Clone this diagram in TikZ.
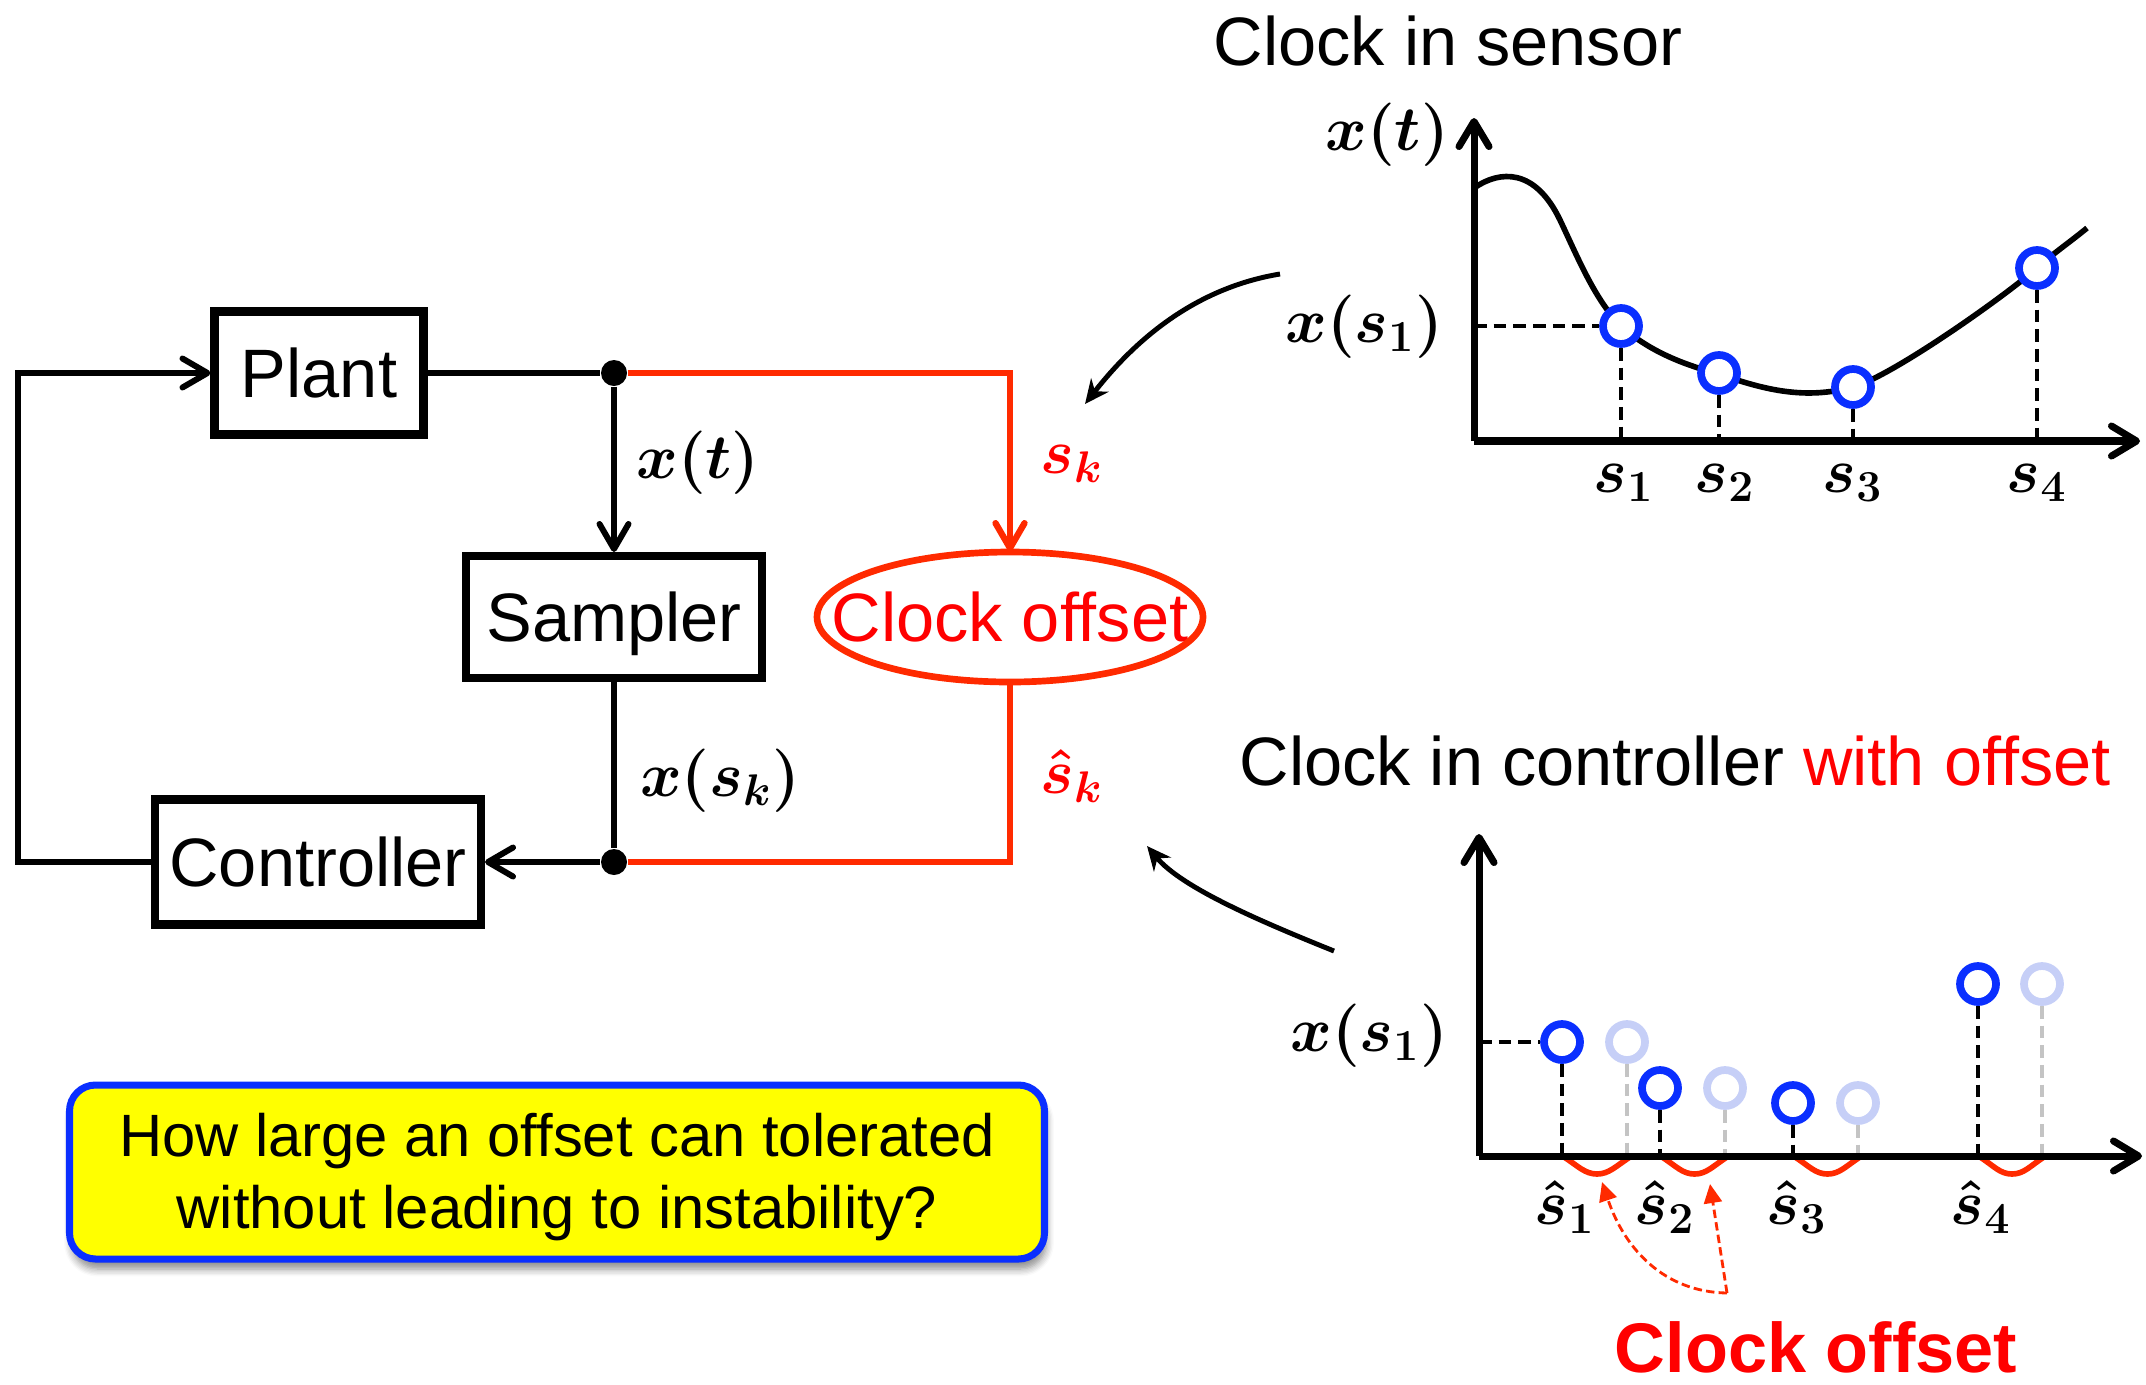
\RequirePackage{fix-cm}
\documentclass[tikz,border=0pt]{standalone}
\usepackage[no-math]{fontspec}
\setmainfont{Liberation Sans}
\usetikzlibrary{arrows.meta,shapes.geometric,shadows.blur}
\definecolor{lred}{HTML}{FF2A00}
\definecolor{tred}{HTML}{FF0000}
\definecolor{cblue}{HTML}{0A2FFF}
\definecolor{lightc}{HTML}{C6CFF7}
\definecolor{lgray}{HTML}{C4C4C4}
\definecolor{byel}{HTML}{FFFF00}
\begin{document}
\begin{tikzpicture}[x=0.1mm,y=-0.1mm,
  blk/.style={draw,line width=2.3pt,inner sep=0,text depth=0pt,font=\fontsize{19.5}{23}\selectfont},
  conn/.style={line width=1.7pt},
  rline/.style={color=lred,line width=1.8pt},
  tipo/.style={-{Straight Barb[length=2.5mm,width=2.9mm,round]}},
  tipf/.style={-{Stealth[length=2.4mm,width=2.2mm]}},
  dot/.style={circle,fill=black,inner sep=0,minimum size=2.6mm},
  mlbl/.style={font=\fontsize{18}{22}\selectfont\boldmath,inner sep=0,anchor=base},
  ttl/.style={font=\fontsize{19.5}{23}\selectfont,inner sep=0},
  axis/.style={line width=2pt,-{Straight Barb[length=2.5mm,width=3mm,round]}},
  dsh/.style={line width=1.2pt,dash pattern=on 3.6pt off 2pt},
  bc/.style={circle,draw=cblue,line width=2.2pt,fill=white,minimum size=3.6mm,inner sep=0},
  lc/.style={circle,draw=lightc,line width=2.2pt,fill=white,minimum size=3.6mm,inner sep=0},
  brk/.style={color=lred,line width=1.6pt},
  rdash/.style={color=lred,line width=0.8pt,dash pattern=on 2.4pt off 1.2pt,-{Triangle[length=1.9mm,width=1.8mm]}},
  qbox/.style={draw=cblue,line width=2pt,fill=byel,rounded corners=2.6mm,minimum width=97.5mm,minimum height=17.4mm,inner sep=0,
    blur shadow={shadow xshift=0.2mm,shadow yshift=-1mm,shadow opacity=45,shadow blur steps=6}}
]
\useasboundingbox (0,0) rectangle (2146,1384);

% ---------- block diagram ----------
\node[blk,minimum width=20.9mm,minimum height=12.3mm] (plant) at (319,373) {Plant};
\node[blk,minimum width=29.6mm,minimum height=12.2mm] (samp) at (614,617) {Sampler};
\node[blk,minimum width=32.6mm,minimum height=12.5mm] (cont) at (318,862) {Controller};
\node[inner sep=0,minimum width=38.6mm,minimum height=13mm,text=tred,
      font=\fontsize{19.5}{23}\selectfont] (clk) at (1010,617) {Clock offset};
\draw[lred,line width=1.9pt] (clk.center) ellipse [x radius=19.3mm,y radius=6.5mm];
\node[dot] (d1) at (614,373) {};
\node[dot] (d2) at (614,862) {};
\coordinate (fbl) at (18,862);

\draw[conn,tipo] (cont.west) -- (fbl) |- (plant.west);
\draw[conn] (plant.east) -- (d1);
\draw[conn,tipo] (d1) -- (samp.north);
\draw[rline,tipo] (d1) -| (clk.north);
\draw[conn] (samp.south) -- (d2);
\draw[conn,tipo] (d2) -- (cont.east);
\draw[rline] (clk.south) |- (d2);

\node[mlbl] (lxt) at (698,478) {$x(t)$};
\node[mlbl] (lxs) at (720,796) {$x(s_k)$};
\node[mlbl,text=tred] (lsk) at (1072,473) {$s_k$};
\node[mlbl,text=tred] (lshk) at (1072,793) {$\hat{s}_k$};

% curved pointer arrows
\coordinate (pa1) at (1280,274);
\coordinate (pa1e) at (1085,404);
\draw[line width=1.4pt,tipf] (pa1) .. controls (1195,288) and (1135,340) .. (pa1e);
\coordinate (pa2) at (1334,951);
\coordinate (pa2e) at (1147,846);
\draw[line width=1.4pt,tipf] (pa2) .. controls (1262,922) and (1182,888) .. (pa2e);

% ---------- top plot ----------
\node[ttl] (t1) at (1448,41) {Clock in sensor};
\coordinate (O1) at (1474,441);
\coordinate (X1) at (2140,441);
\coordinate (Y1) at (1474,118);
\draw[line width=1.6pt] (1474,188) .. controls (1500,170) and (1535,168) .. (1560,220)
   .. controls (1578,258) and (1595,300) .. (1621,326)
   .. controls (1650,352) and (1685,365) .. (1719,374)
   .. controls (1765,390) and (1805,400) .. (1853,387)
   .. controls (1890,377) and (2000,300) .. (2037,268)
   .. controls (2055,252) and (2070,242) .. (2087,228);
\draw[axis] (O1) -- (X1);
\draw[axis] (O1) -- (Y1);
\node[bc] (c1) at (1621,326) {};
\node[bc] (c2) at (1719,373) {};
\node[bc] (c3) at (1853,387) {};
\node[bc] (c4) at (2037,268) {};
\foreach \c in {c1,c2,c3,c4} \draw[dsh] (\c.south) -- (\c.south |- O1);
\draw[dsh] (O1 |- c1) -- (c1.west);
\node[mlbl] (lxt2) at (1387,150) {$x(t)$};
\node[mlbl] (lxs1) at (1364,342) {$x(s_1)$};
\node[mlbl] (s1) at (1624,492) {$s_1$};
\node[mlbl] (s2) at (1725,492) {$s_2$};
\node[mlbl] (s3) at (1853,492) {$s_3$};
\node[mlbl] (s4) at (2037,492) {$s_4$};

% ---------- bottom plot ----------
\node[ttl] (t2) at (1675,761) {Clock in controller \textcolor{tred}{with offset}};
\coordinate (O2) at (1479,1156);
\coordinate (X2) at (2142,1156);
\coordinate (Y2) at (1479,834);
\node[bc] (b1) at (1562,1042) {};
\node[bc] (b2) at (1660,1088) {};
\node[bc] (b3) at (1793,1103) {};
\node[bc] (b4) at (1978,984) {};
\node[lc] (l1) at (1627,1042) {};
\node[lc] (l2) at (1725,1088) {};
\node[lc] (l3) at (1858,1103) {};
\node[lc] (l4) at (2042,984) {};
\foreach \c in {b1,b2,b3,b4} \draw[dsh] (\c.south) -- (\c.south |- O2);
\foreach \c in {l1,l2,l3,l4} \draw[dsh,color=lgray] (\c.south) -- (\c.south |- O2);
\draw[dsh] (O2 |- b1) -- (b1.west);
\foreach \a/\b in {1564/1630,1662/1727,1795/1860,1980/2044}{
  \pgfmathsetmacro{\m}{(\a+\b)/2}
  \draw[brk] (\a,1157) .. controls (\a+14,1166) and (\m-12,1174) .. (\m,1174)
             .. controls (\m+12,1174) and (\b-14,1166) .. (\b,1157);
}
\draw[axis] (O2) -- (X2);
\draw[axis] (O2) -- (Y2);
\node[mlbl] (h1) at (1565,1224) {$\hat{s}_1$};
\node[mlbl] (h2) at (1665,1224) {$\hat{s}_2$};
\node[mlbl] (h3) at (1797,1224) {$\hat{s}_3$};
\node[mlbl] (h4) at (1981,1224) {$\hat{s}_4$};
\node[mlbl] (lxs2) at (1369,1051) {$x(s_1)$};

\coordinate (ro) at (1727,1293);
\coordinate (ra1) at (1602,1182);
\coordinate (ra2) at (1710,1184);
\draw[rdash] (ro) .. controls (1665,1292) and (1625,1250) .. (ra1);
\draw[rdash] (ro) -- (ra2);
\node[font=\fontsize{20}{24}\selectfont\bfseries,text=tred,inner sep=0] (co) at (1816,1347) {Clock offset};

% ---------- question box ----------
\node[qbox] (q) at (557,1172) {};
\node[align=center,inner sep=0,font=\fontsize{17}{20.5}\selectfont] (qt) at (557,1177) {How large an offset can tolerated\\without leading to instability?};
\end{tikzpicture}
\end{document}
